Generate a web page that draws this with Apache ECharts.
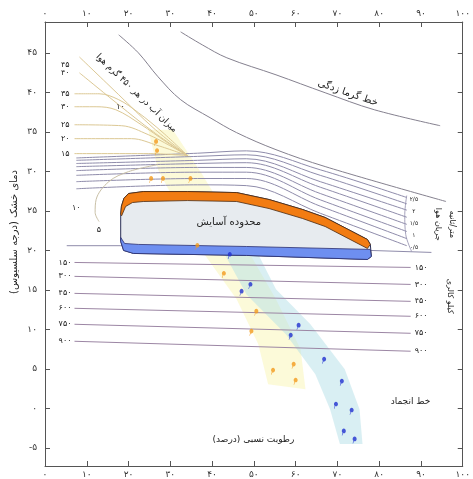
<!DOCTYPE html>
<html><head><meta charset="utf-8">
<script src="https://cdn.jsdelivr.net/npm/echarts@6/dist/echarts.min.js"></script>
<style>html,body{margin:0;padding:0;background:#fff}#c{width:473px;height:479px}</style>
</head><body><div id="c"></div>
<script>
// ---------- data ----------
const yTickValues = [-5,0,5,10,15,20,25,30,35,40,45];
const heatCurve = [[17.65,47.27],[22.35,45.0],[27.06,41.97],[32.47,39.07],[39.53,36.79],[45.88,34.9],[55.29,32.75],[67.06,30.61],[96.0,26.19]];
const sunstrokeLine = [[32.47,47.65],[37.65,46.01],[43.53,44.37],[55.29,42.22],[67.06,39.95],[78.82,37.8],[94.59,35.78]];

const windLines = [
  [[7.5,31.7],[36.5,32.3],[48.2,32.6],[65.9,30.2],[86.6,26.7]],
  [[7.5,31.4],[36.5,31.9],[48.2,32.1],[65.9,29.5],[86.6,25.9]],
  [[7.5,31.0],[36.5,31.4],[48.2,31.6],[65.9,28.7],[86.6,25.1]],
  [[7.5,30.6],[36.5,31.0],[48.2,31.1],[65.9,28.0],[86.6,24.2]],
  [[7.5,30.1],[36.5,30.5],[48.2,30.5],[65.9,27.2],[86.6,23.3]],
  [[7.5,29.5],[36.5,29.9],[48.2,29.9],[65.9,26.4],[86.6,22.4]],
  [[7.5,28.7],[36.5,29.1],[48.2,29.1],[65.9,25.6],[86.6,21.5]],
  [[7.5,27.8],[36.5,28.3],[48.2,28.2],[65.9,24.7],[86.6,20.6]]
];
const stillAirLine = [[5.2,20.6],[18.1,20.6],[77.9,20.0],[92.5,19.75]];
const windBracket = [[86.59,26.94],[86.12,24.55],[86.35,22.02],[87.76,19.87]];
const windLabels = ['۲/۵','۲','۱/۵','۱','۰/۵'];
const windLabelY = [26.44,24.92,23.41,21.89,20.38];

const vaporLabels = ['۴۵','۴۰','۳۵','۳۰','۲۵','۲۰','۱۵'];
const vaporLabelY = [43.48,42.47,39.82,38.18,35.9,34.14,32.25];
const vaporLines = [
  [[8.24,44.47],[17.65,39.70],[25.88,35.53],[34.12,32.0]],
  [[8.24,42.47],[17.65,38.43],[25.88,35.02],[34.12,32.0]],
  [[7.06,39.82],[12.94,39.82],[17.65,39.07],[22.35,37.43],[28.24,34.9],[34.12,32.0]],
  [[7.06,38.18],[12.24,38.18],[16.94,37.8],[23.06,35.9],[28.94,33.76],[34.12,32.0]],
  [[7.06,35.9],[18.35,35.78],[24.71,34.65],[29.88,33.26],[34.12,32.0]],
  [[7.06,34.14],[20.71,34.14],[27.06,33.26],[34.12,32.0]],
  [[7.06,32.25],[24.71,32.25],[34.12,32.0]]
];
const vapor5Curve = [[27.06,30.86],[20.0,29.97],[15.29,28.71],[12.24,26.44],[12.0,24.8],[12.94,23.66]];

const radLabels = ['۱۵۰','۳۰۰','۴۵۰','۶۰۰','۷۵۰','۹۰۰'];
const radStartX = 7.06, radEndX = 87.53;
const radStartY = [18.48,16.72,14.57,12.68,10.66,8.51];
const radEndY = [17.85,15.70,13.56,11.67,9.52,7.25];

const zoneTop = [[18.12,24.55],[18.3,25.6],[18.9,26.6],[20.0,27.2],[23.53,27.45],[34.12,27.45],[45.88,27.32],[53.65,26.44],[61.65,25.18],[67.06,24.17],[77.18,21.39],[77.88,20.76]];
const orangeInner = [[18.35,24.39],[19.29,25.56],[20.94,26.06],[23.53,26.19],[34.12,26.31],[45.88,26.19],[53.65,25.30],[61.65,24.04],[67.06,23.03],[77.18,20.25]];
const blueTop = [[18.12,21.64],[19.06,20.88],[22.35,20.76],[48.24,20.5],[77.88,20.13]];
const blueBottom = [[18.12,21.14],[18.82,20.0],[21.18,19.62],[48.24,19.37],[77.18,18.86],[78.12,19.24]];

const yellowBandLeft = [[24.71,35.28],[27.06,30.23],[36.47,20.76],[45.88,13.81],[51.06,8.13],[53.41,3.08]];
const yellowBandRight = [[30.59,35.28],[37.65,29.6],[47.06,21.39],[55.29,13.81],[61.18,7.5],[62.35,2.45]];
const blueBandLeft = [[43.06,19.5],[48.24,14.44],[57.65,9.39],[64.71,4.34],[68.24,-0.08],[70.59,-4.49]];
const blueBandRight = [[51.06,19.5],[55.29,15.08],[63.53,10.66],[71.76,4.97],[75.29,-0.08],[76.0,-4.49]];

const orangePoints = [[26.59,33.64],[26.82,32.5],[25.41,28.96],[28.24,28.96],[34.82,28.96],[36.47,20.51],[42.82,16.97],[50.59,12.17],[49.41,9.65],[59.53,5.48],[54.59,4.72],[60.0,3.46]];
const bluePoints = [[44.24,19.37],[47.06,14.7],[49.18,15.58],[60.71,10.4],[58.82,9.14],[66.82,6.11],[71.06,3.33],[69.65,0.43],[73.41,-0.33],[71.53,-2.98],[74.12,-3.99]];

const annotations = [
  {x:72.5, y:39.9, text:'خط گرما زدگی', rot:-19, size:10},
  {x:21.9, y:39.9, text:'میزان آب در هر ۴۵۰ گرم هوا', rot:-44, size:9},
  {x:18.1, y:38.2, text:'۱۰', rot:0, size:8},
  {x:7.5, y:25.4, text:'۱۰', rot:0, size:8},
  {x:12.9, y:22.6, text:'۵', rot:0, size:8},
  {x:44.0, y:23.5, text:'محدوده آسایش', rot:0, size:10},
  {x:87.5, y:0.9, text:'خط انجماد', rot:0, size:9},
  {x:49.9, y:-3.9, text:'رطوبت نسبی (درصد)', rot:0, size:9},
  {x:94.0, y:23.3, text:'جریان هوا', rot:-90, size:8},
  {x:97.4, y:23.3, text:'متر/ثانیه', rot:-90, size:8},
  {x:96.9, y:14.2, text:'کیلو کالری', rot:-90, size:8}
];
const yAxisTitle = 'دمای خشک (درجه سلسیوس)';

// ---------- rendering ----------
const FONT = 'DejaVu Sans';
const faDigits = '۰۱۲۳۴۵۶۷۸۹';
const fa = v => String(v).replace(/\d/g, d => faDigits[+d]);

const chart = echarts.init(document.getElementById('c'));

function lineS(data, color, width, z, smooth) {
  return {type:'line', data, symbol:'none', smooth: smooth === undefined ? 0.35 : smooth,
    lineStyle:{color, width}, z, silent:true};
}
function polyS(pts, style, z) {
  return {type:'custom', z, silent:true, data:[pts[0]],
    renderItem:(p, api) => ({type:'polygon', shape:{points: pts.map(q => api.coord(q))}, style})};
}
function textS(items, z) {
  return {type:'custom', z, silent:true, data: items.map(a => [a.x, a.y]),
    renderItem:(p, api) => {
      const a = items[p.dataIndex];
      const pt = api.coord([a.x, a.y]);
      return {type:'text', x: pt[0] + (a.dx || 0), y: pt[1],
        rotation: (a.rot || 0) * Math.PI / 180,
        style:{text:a.text, fontSize:a.size, fontFamily:FONT, fill:a.color || '#222',
          align:a.align || 'center', verticalAlign:'middle'}};
    }};
}
const rev = a => a.slice().reverse();

const series = [];
series.push(polyS(yellowBandLeft.concat(rev(yellowBandRight)), {fill:'rgba(250,245,180,0.5)'}, 1));
series.push(polyS(blueBandLeft.concat(rev(blueBandRight)), {fill:'rgba(180,224,232,0.5)'}, 1));
radLabels.forEach((l, i) => series.push(lineS([[radStartX, radStartY[i]],[radEndX, radEndY[i]]], '#9c86a4', 1, 2, false)));
windLines.forEach(w => series.push(lineS(w, '#8f8cab', 1, 2)));
series.push(lineS(stillAirLine, '#8f8cab', 1, 2, false));
series.push(lineS(windBracket, '#8f8cab', 0.8, 2));
vaporLines.forEach(v => series.push(lineS(v, '#dcc894', 1, 2)));
series.push(lineS(vapor5Curve, '#c9c0a6', 1, 2));
series.push(lineS(heatCurve, '#85818f', 1, 2));
series.push(lineS(sunstrokeLine, '#85818f', 1, 2));
series.push(polyS(zoneTop.concat(rev(blueBottom)), {fill:'#e7ebef', stroke:'#2b2f55', lineWidth:1}, 3));
series.push(polyS(zoneTop.concat(rev(orangeInner)), {fill:'#f27c12', stroke:'#4a2a10', lineWidth:0.8}, 4));
series.push(polyS(blueTop.concat(rev(blueBottom)), {fill:'#6e8ff0', stroke:'#2b2f70', lineWidth:0.8}, 4));
const pin = 'path://M6,0C9.3,0,12,2.7,12,6C12,9.3,9.3,12,6,12C2.7,12,0,9.3,0,6C0,2.7,2.7,0,6,0ZM2,11L0,18L1.5,18L4,11.5Z';
series.push({type:'scatter', data:orangePoints, symbol:pin, symbolSize:[4,7], itemStyle:{color:'#f29a1c'}, z:6, silent:true});
series.push({type:'scatter', data:bluePoints, symbol:pin, symbolSize:[4,7], itemStyle:{color:'#1f2fd0'}, z:6, silent:true});
const labelItems = annotations.slice();
radLabels.forEach((l, i) => {
  labelItems.push({x:radStartX, y:radStartY[i], text:l, size:8, align:'right', dx:-3});
  labelItems.push({x:radEndX, y:radEndY[i], text:l, size:8, align:'left', dx:4});
});
vaporLabels.forEach((l, i) => labelItems.push({x:6.6, y:vaporLabelY[i], text:l, size:8, align:'right', dx:-3}));
windLabels.forEach((l, i) => labelItems.push({x:88.3, y:windLabelY[i], text:l, size:6, align:'center'}));
series.push(textS(labelItems, 10));

const axisCommon = {
  type:'value', axisLine:{show:true, onZero:false, lineStyle:{color:'#555', width:1}},
  axisTick:{show:true, inside:true, length:5, lineStyle:{color:'#555'}},
  splitLine:{show:false},
  axisLabel:{formatter: fa, fontSize:9, color:'#333', fontFamily:FONT}
};
chart.setOption({
  animation:false,
  backgroundColor:'#fff',
  grid:{left:45, top:22, width:425, height:445, containLabel:false},
  xAxis:[
    Object.assign({}, axisCommon, {min:0, max:100, interval:10, position:'bottom', axisLabel:Object.assign({}, axisCommon.axisLabel, {margin:4})}),
    Object.assign({}, axisCommon, {min:0, max:100, interval:10, position:'top', axisLabel:Object.assign({}, axisCommon.axisLabel, {margin:4})})
  ],
  yAxis:[
    Object.assign({}, axisCommon, {min:-7.27, max:48.9, position:'left',
      axisTick:Object.assign({}, axisCommon.axisTick, {customValues:yTickValues}),
      axisLabel:Object.assign({}, axisCommon.axisLabel, {customValues:yTickValues, margin:8})}),
    Object.assign({}, axisCommon, {min:-7.27, max:48.9, position:'right',
      axisTick:Object.assign({}, axisCommon.axisTick, {customValues:yTickValues}),
      axisLabel:{show:false}})
  ],
  graphic:[{type:'text', x:14, y:232, rotation:Math.PI/2,
    style:{text:yAxisTitle, fontSize:10, fontFamily:FONT, fill:'#222', align:'center', verticalAlign:'middle'}}],
  series
});
</script></body></html>
